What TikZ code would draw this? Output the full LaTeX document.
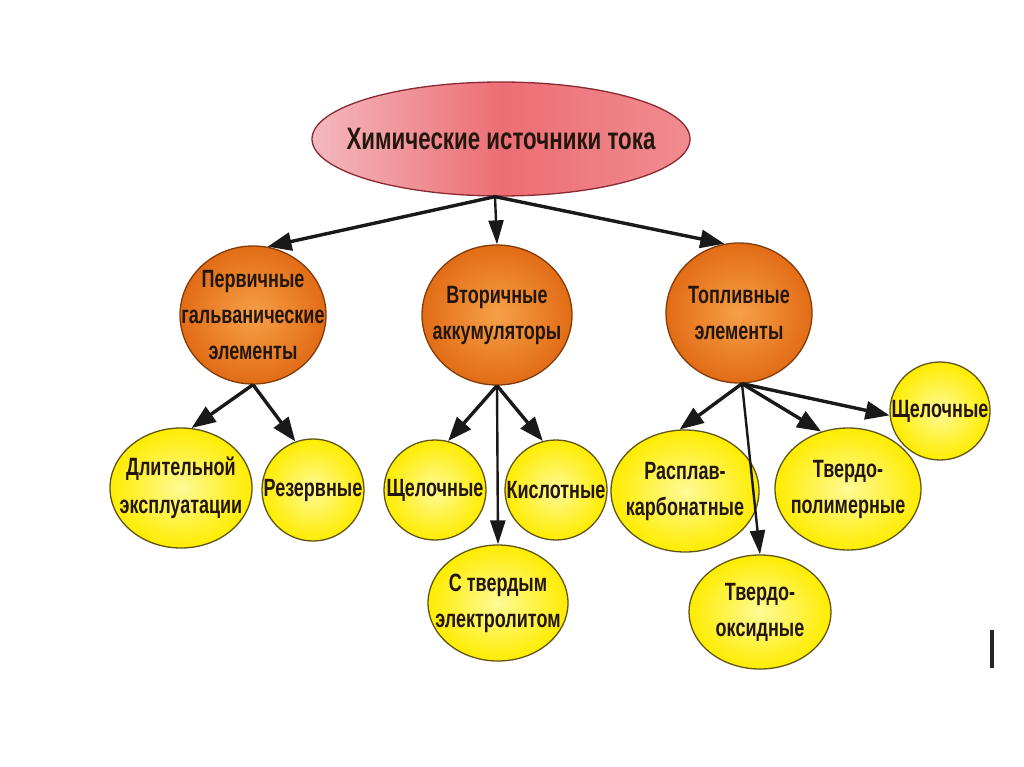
\documentclass[tikz,border=0pt]{standalone}
\usepackage{fontspec}
\setmainfont{Liberation Sans}[FakeStretch=0.72]
\usetikzlibrary{arrows.meta,shapes.geometric}
\definecolor{txt}{RGB}{35,22,12}
\definecolor{pinkL}{RGB}{244,185,190}
\definecolor{pinkM}{RGB}{236,110,116}
\definecolor{pinkR}{RGB}{240,140,145}
\definecolor{pinkB}{RGB}{140,40,50}
\definecolor{orIn}{RGB}{246,160,72}
\definecolor{orOut}{RGB}{226,108,22}
\definecolor{orB}{RGB}{130,60,10}
\definecolor{yeIn}{RGB}{255,250,150}
\definecolor{yeOut}{RGB}{255,236,0}
\definecolor{yeB}{RGB}{95,85,20}
\definecolor{arrc}{RGB}{25,25,25}
\tikzset{
  topel/.style={ellipse, draw=pinkB, line width=1.3pt, left color=pinkL, right color=pinkR, middle color=pinkM, inner sep=0pt},
  orel/.style={ellipse, draw=orB, line width=1.3pt, inner color=orIn, outer color=orOut, inner sep=0pt},
  yeel/.style={ellipse, draw=yeB, line width=1.3pt, inner color=yeIn, outer color=yeOut, inner sep=0pt},
  lbl/.style={text=txt, align=center, inner sep=0pt, font=\bfseries\fontsize{25}{36}\selectfont},
  lbltop/.style={text=txt, align=center, inner sep=0pt, font=\bfseries\fontsize{31}{36}\selectfont},
  arr/.style={draw=arrc, line width=3.4pt, -{Triangle[length=24pt,width=18pt]}},
  arrv/.style={draw=arrc, line width=2.4pt, -{Triangle[length=24pt,width=15pt]}}
}
\begin{document}
\begin{tikzpicture}[x=1pt,y=-1pt]
\useasboundingbox (0,0) rectangle (1024,767);
\fill[white] (0,0) rectangle (1024,767);
% top
\node[topel, minimum width=378pt, minimum height=114pt, label={[lbltop]center:Химические источники тока}] (top) at (501,139) {};
% level 1
\node[orel, minimum width=146pt, minimum height=138pt, label={[lbl]center:Первичные\\гальванические\\элементы}] (L) at (253,315) {};
\node[orel, minimum width=150pt, minimum height=140pt, label={[lbl]center:Вторичные\\аккумуляторы}] (M) at (497,315) {};
\node[orel, minimum width=146pt, minimum height=140pt, label={[lbl]center:Топливные\\элементы}] (R) at (739,313) {};
% level 2
\node[yeel, minimum width=142pt, minimum height=120pt, label={[lbl, font=\bfseries\fontsize{25}{38}\selectfont]center:Длительной\\эксплуатации}] (D) at (181,488) {};
\node[yeel, minimum width=102pt, minimum height=102pt, label={[lbl]center:Резервные}] (Rz) at (313,490) {};
\node[yeel, minimum width=102pt, minimum height=100pt, label={[lbl]center:Щелочные}] (Sh1) at (435,490) {};
\node[yeel, minimum width=102pt, minimum height=100pt, label={[lbl]center:Кислотные}] (K) at (556,490) {};
\node[yeel, minimum width=140pt, minimum height=116pt, label={[lbl]center:С твердым\\электролитом}] (C) at (498,603) {};
\node[yeel, minimum width=148pt, minimum height=122pt, label={[lbl]center:Расплав-\\карбонатные}] (RK) at (685,491) {};
\node[yeel, minimum width=146pt, minimum height=122pt, label={[lbl]center:Твердо-\\полимерные}] (TP) at (848,489) {};
\node[yeel, minimum width=142pt, minimum height=114pt, label={[lbl]center:Твердо-\\оксидные}] (TO) at (760,612) {};
\node[yeel, minimum width=100pt, minimum height=98pt, label={[lbl]center:Щелочные}] (Sh2) at (940,411) {};
% arrows
\coordinate (ts) at ([xshift=-6pt]top.south);
\draw[arr] (ts) -- (L.78);
\draw[arrv] (ts) -- (M.north);
\draw[arr] (ts) -- (R.102);
\draw[arr] (L.south) -- (D.80);
\draw[arr] (L.south) -- (Rz.110);
\draw[arr] (M.south) -- (Sh1.75);
\draw[arrv] (M.south) -- (C.north);
\draw[arr] (M.south) -- (K.105);
\draw[arr] ([xshift=3pt]R.south) -- (RK.95);
\draw[arrv] ([xshift=3pt]R.south) -- (TO.north);
\draw[arr] ([xshift=3pt]R.south) -- (TP.115);
\draw[arr] ([xshift=3pt]R.south) -- (Sh2.185);
% stray mark at right edge
\fill[black!85] (990,630) rectangle (994,668);
\end{tikzpicture}
\end{document}
